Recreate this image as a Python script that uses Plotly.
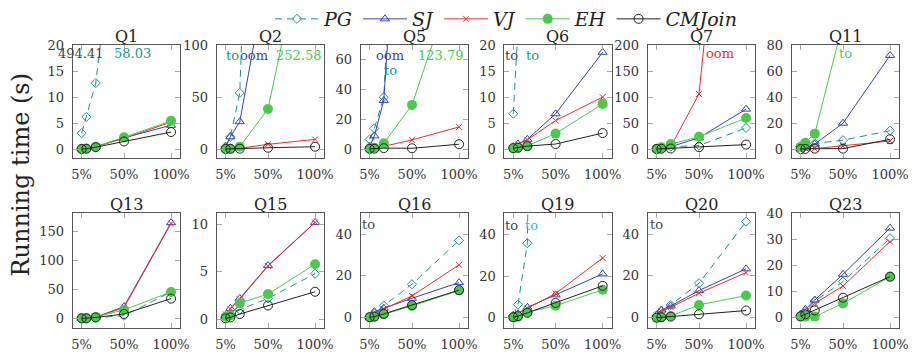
import plotly.graph_objects as go

# ---------------- data ----------------
QUERIES = ["Q1", "Q2", "Q5", "Q6", "Q7", "Q11", "Q13", "Q15", "Q16", "Q19", "Q20", "Q23"]
SCALE = [5, 10, 20, 50, 100]
X_TICKS = [5, 50, 100]
X_TICK_TEXT = ["5%", "50%", "100%"]
SYSTEMS = ["PG", "SJ", "VJ", "EH", "CMJoin"]

PG = [
    [3.1, 6.2, 12.7, 58.03, 494.41],
    [2.5, 12, 54, 820, None],
    [6.7, 14, 35, 400, None],
    [6.8, 23, None, None, None],
    [0.5, 1, 5, 7, 41],
    [2, 3, 4.5, 7, 14.3],
    [0.3, 0.5, 1.5, 5, 46],
    [0.2, 0.4, 1.0, 2.2, 4.8],
    [0.5, 2, 5.8, 16, 37],
    [1, 6.3, 35.7, 1000, None],
    [1, 2.9, 6.1, 16.5, 46],
    [1, 2.3, 6.4, 13.9, 30.6],
]
SJ = [
    [0.1, 0.15, 0.5, 2.2, 4.6],
    [2.5, 12, 26.5, 175, None],
    [1.8, 9, 32.7, 320, None],
    [0.5, 1, 1.9, 6.8, 18.6],
    [0.5, 1, 5, 22, 77],
    [0.5, 1, 4, 20, 72],
    [0.5, 1, 2.5, 20.7, 165.5],
    [0.4, 1.15, 2.2, 5.65, 10.2],
    [0.5, 2.9, 4.5, 9.3, 16.8],
    [1, 2, 5, 11, 21],
    [1.3, 3.7, 5.6, 13, 23.4],
    [1.4, 3.2, 6.8, 16.7, 34.5],
]
VJ = [
    [0.1, 0.15, 0.5, 2.1, 5.2],
    [0.3, 0.5, 1, 4.8, 9.5],
    [0.5, 1, 2, 6.3, 15],
    [0.3, 0.9, 1.8, 5.5, 10],
    [0.5, 1, 5, 106, 990],
    [0.2, 0.5, 0.5, 2.5, 6.4],
    [0.5, 1, 2.5, 19, 164],
    [0.5, 1.1, 2.1, 5.6, 10.2],
    [0.5, 2, 4.2, 10.4, 25.3],
    [1, 2, 4.5, 11.6, 28.6],
    [1, 3, 5, 11.7, 21.6],
    [1, 2.3, 5.5, 12.2, 29.3],
]
EH = [
    [0.1, 0.15, 0.5, 2.3, 5.45],
    [0.5, 0.5, 2.5, 38.7, 252.58],
    [0.5, 1, 4, 29.8, 123.79],
    [0.2, 0.3, 0.65, 3, 8.7],
    [1, 4, 10, 24, 60],
    [2, 5.1, 12, 97, None],
    [0.5, 1, 3, 15, 46],
    [0.3, 0.4, 1.7, 2.65, 5.8],
    [0.2, 0.5, 1.6, 5.6, 13],
    [0.2, 0.5, 2.7, 5.8, 13.4],
    [0, 0.2, 0.8, 6.1, 10.6],
    [0.4, 0.4, 0.4, 5.5, 15.8],
]
CMJOIN = [
    [0.05, 0.1, 0.4, 1.5, 3.3],
    [0.3, 0.5, 0.6, 1.5, 2.5],
    [0.3, 0.4, 0.8, 0.7, 3.4],
    [0.2, 0.3, 0.6, 1.0, 3.1],
    [0.5, 1, 1.5, 4, 9],
    [0.2, 0.3, 0.5, 0.5, 7.7],
    [0.3, 0.5, 2, 8, 34.5],
    [0.1, 0.2, 0.55, 1.45, 2.9],
    [0.2, 0.5, 1.8, 6, 13.2],
    [0.3, 0.8, 2.4, 7.1, 15.3],
    [0, 0.2, 0.5, 1.6, 3.4],
    [0.5, 1.3, 2.8, 7.7, 15.8],
]
SERIES = [PG, SJ, VJ, EH, CMJOIN]

# ---------------- layout / style ----------------
OFF = 8                      # default page margin of the html body
W, H = 908, 346
Y_RANGES = [[-1.73, 20], [-8.6, 100], [-6.04, 70], [-1.74, 20], [-17.3, 200], [-6.9, 80],
            [-16.7, 181.6], [-0.95, 11.16], [-5.1, 50], [-5.0, 50], [-5.1, 50], [-4.1, 40.2]]
Y_DTICK = [5, 50, 20, 5, 50, 20, 50, 5, 20, 20, 20, 10]
X_RANGE = [-4.5, 109.5]
LEFTS = [72.7, 216.7, 360.7, 504.3, 647.7, 791.7]
BOX_W = 107.3
ROWS = [(45, 158.3), (213.3, 328.3)]

TEAL = "#1f9191"
BLUE = "#3344bb"
RED = "#e8302a"
GREEN = "#4cc94c"
BLACK = "#222222"
GRAY = "#444444"
CYAN = "#3fb4d4"
FONT = "DejaVu Serif"

STYLES = [
    dict(line=dict(color=TEAL, width=1, dash="7px,5px"),
         marker=dict(symbol="diamond-open", size=7, color=TEAL, line=dict(width=1, color=TEAL))),
    dict(line=dict(color=BLUE, width=1),
         marker=dict(symbol="triangle-up-open", size=8, color=BLUE, line=dict(width=1, color=BLUE))),
    dict(line=dict(color=RED, width=1),
         marker=dict(symbol="x-thin-open", size=6, color=RED, line=dict(width=1, color=RED))),
    dict(line=dict(color=GREEN, width=1),
         marker=dict(symbol="circle", size=10, color=GREEN, line=dict(width=0))),
    dict(line=dict(color=BLACK, width=1),
         marker=dict(symbol="circle-open", size=9, color=BLACK, line=dict(width=1, color=BLACK))),
]

LABELS = [
    (0, "494.41", GRAY, 57, 54),
    (0, "58.03", TEAL, 113, 54),
    (1, "to", TEAL, 225, 55), (1, "oom", BLUE, 239, 55), (1, "252.58", GREEN, 275, 55),
    (2, "oom", BLUE, 375, 55), (2, "123.79", GREEN, 417, 55), (2, "to", TEAL, 383, 70.5),
    (3, "to", GRAY, 504, 55), (3, "to", TEAL, 525, 55),
    (4, "oom", RED, 705, 54),
    (5, "to", GREEN, 838, 54),
    (8, "to", GRAY, 361, 224),
    (9, "to", GRAY, 504, 225), (9, "to", CYAN, 524, 225),
    (10, "to", GRAY, 649, 224),
]


def px(xp):
    return (xp - OFF) / W


def py(yp):
    return 1 - (yp - OFF) / H


fig = go.Figure()
layout = {}
annotations = []

for i, q in enumerate(QUERIES):
    r, c = divmod(i, 6)
    top, bot = ROWS[r]
    left = LEFTS[c]
    xa = "x" if i == 0 else f"x{i+1}"
    ya = "y" if i == 0 else f"y{i+1}"
    for s, name in enumerate(SYSTEMS):
        fig.add_trace(go.Scatter(
            x=SCALE, y=SERIES[s][i], name=name, mode="lines+markers",
            xaxis=xa, yaxis=ya, showlegend=(i == 0), legendgroup=name,
            connectgaps=False, **STYLES[s]))
    axis_common = dict(showline=True, linecolor="#555555", linewidth=1, mirror="ticks",
                       ticks="inside", ticklen=5, tickwidth=1, tickcolor="#aaaaaa",
                       showgrid=False, zeroline=False, automargin=False,
                       tickfont=dict(family=FONT, size=13, color="#333333"))
    layout["xaxis" if i == 0 else f"xaxis{i+1}"] = dict(
        domain=[px(left), px(left + BOX_W)], anchor=ya, range=X_RANGE,
        tickvals=X_TICKS, ticktext=X_TICK_TEXT, ticklabelstandoff=4, **axis_common)
    layout["yaxis" if i == 0 else f"yaxis{i+1}"] = dict(
        domain=[py(bot), py(top)], anchor=xa, range=Y_RANGES[i],
        tick0=0, dtick=Y_DTICK[i], ticklabelstandoff=5, **axis_common)
    annotations.append(dict(text=q, x=px(left + BOX_W / 2), y=py(top - 8.5),
                            xref="paper", yref="paper", showarrow=False,
                            xanchor="center", yanchor="middle",
                            font=dict(family=FONT, size=16, color=BLACK)))

for (i, t, col, xp, yp) in LABELS:
    annotations.append(dict(text=t, x=px(xp), y=py(yp), xref="paper", yref="paper",
                            showarrow=False, xanchor="left", yanchor="middle",
                            borderpad=0, font=dict(family=FONT, size=13, color=col)))

annotations.append(dict(text="Running time (s)", x=px(20), y=py(174.5), xref="paper",
                        yref="paper", showarrow=False, textangle=-90,
                        xanchor="center", yanchor="middle",
                        font=dict(family=FONT, size=24, color=BLACK)))

fig.update_layout(
    width=W, height=H, margin=dict(l=0, r=0, t=0, b=0, autoexpand=False),
    paper_bgcolor="white", plot_bgcolor="white",
    annotations=annotations,
    legend=dict(orientation="h", x=px(506), xanchor="center", y=py(0), yanchor="top",
                font=dict(family=FONT, size=19, color=BLACK, style="italic"),
                bgcolor="rgba(0,0,0,0)", itemwidth=44, tracegroupgap=0, valign="middle"),
    **layout,
)

fig.write_html("out.html")
